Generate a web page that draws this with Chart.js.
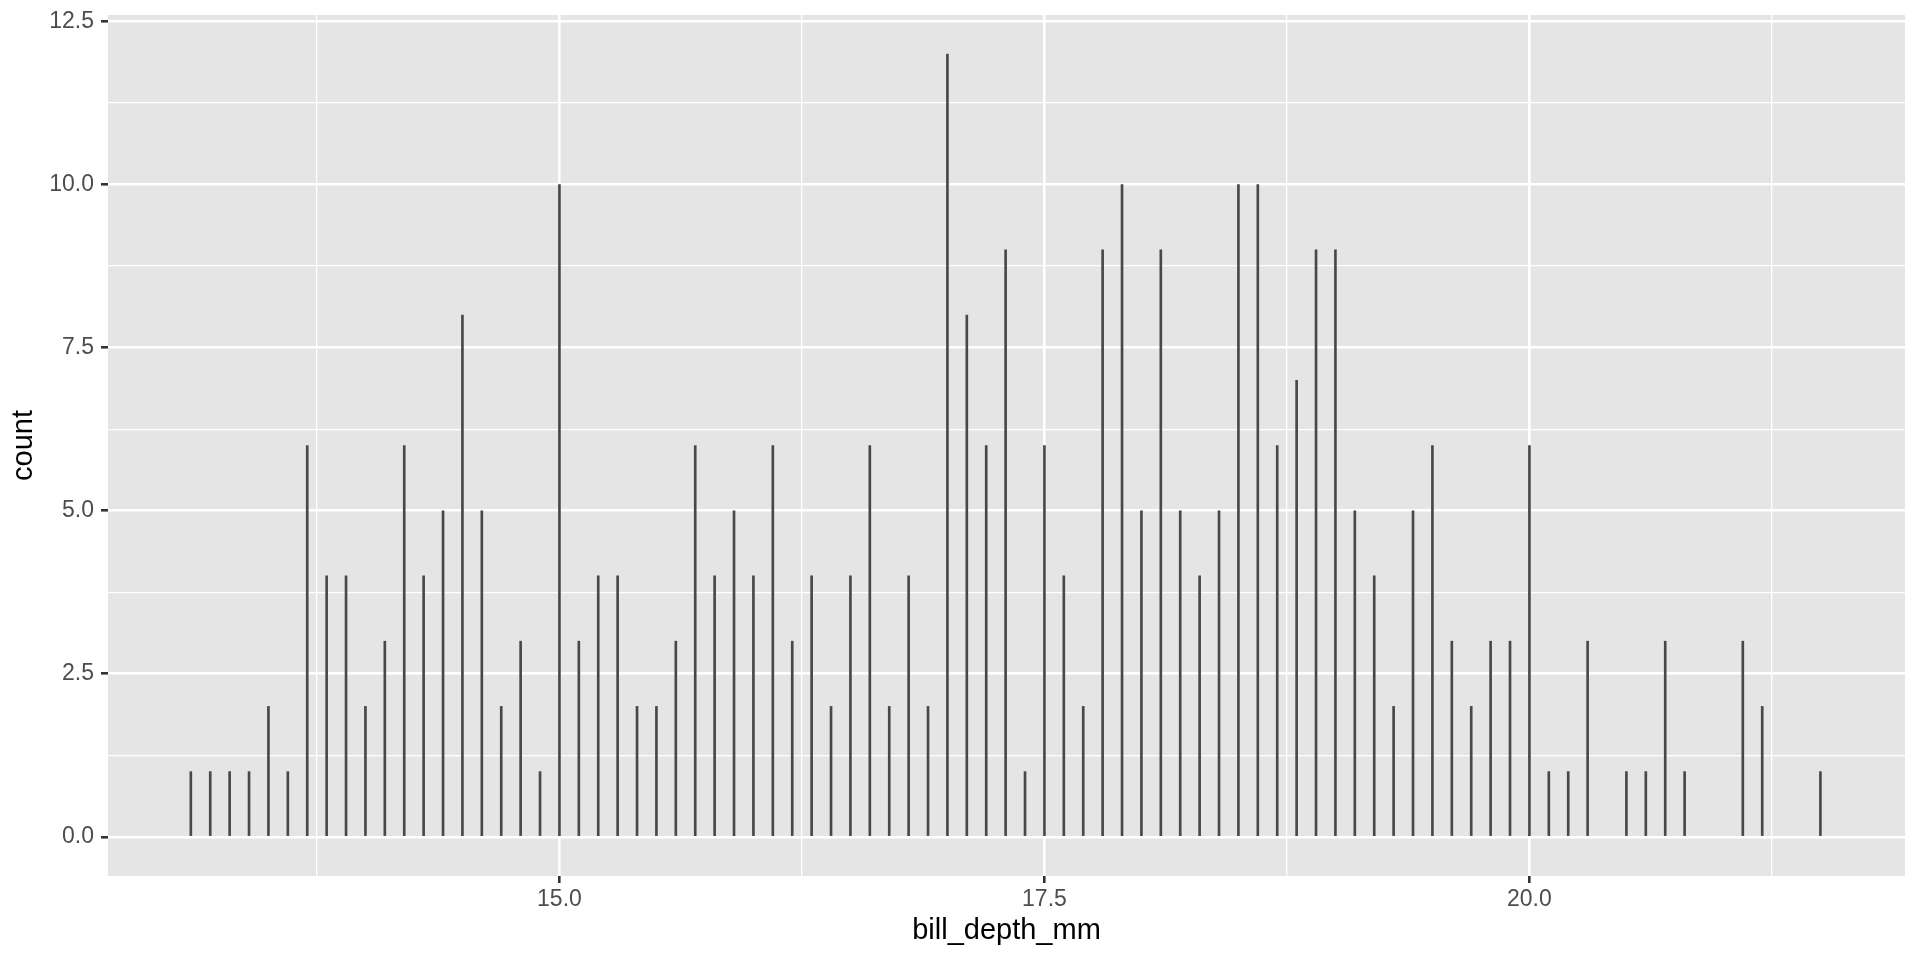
<!DOCTYPE html>
<html>
<head>
<meta charset="utf-8">
<script src="https://cdn.jsdelivr.net/npm/chart.js@4.4.1/dist/chart.umd.min.js"></script>
<style>
  html, body { margin: 0; padding: 0; background: #ffffff; }
  #wrap { width: 1920px; height: 960px; }
</style>
</head>
<body>
<div id="wrap"><canvas id="chart" width="1920" height="960"></canvas></div>
<script>
// bill depth bins (mm) and counts
const depths = [
  13.1, 13.2, 13.3, 13.4, 13.5, 13.6, 13.7, 13.8, 13.9,
  14.0, 14.1, 14.2, 14.3, 14.4, 14.5, 14.6, 14.7, 14.8, 14.9,
  15.0, 15.1, 15.2, 15.3, 15.4, 15.5, 15.6, 15.7, 15.8, 15.9,
  16.0, 16.1, 16.2, 16.3, 16.4, 16.5, 16.6, 16.7, 16.8, 16.9,
  17.0, 17.1, 17.2, 17.3, 17.4, 17.5, 17.6, 17.7, 17.8, 17.9,
  18.0, 18.1, 18.2, 18.3, 18.4, 18.5, 18.6, 18.7, 18.8, 18.9,
  19.0, 19.1, 19.2, 19.3, 19.4, 19.5, 19.6, 19.7, 19.8, 19.9,
  20.0, 20.1, 20.2, 20.3, 20.4, 20.5, 20.6, 20.7, 20.8, 20.9,
  21.0, 21.1, 21.2, 21.3, 21.4, 21.5
];
const counts = [
  1, 1, 1, 1, 2, 1, 6, 4, 4,
  2, 3, 6, 4, 5, 8, 5, 2, 3, 1,
  10, 3, 4, 4, 2, 2, 3, 6, 4, 5,
  4, 6, 3, 4, 2, 4, 6, 2, 4, 2,
  12, 8, 6, 9, 1, 6, 4, 2, 9, 10,
  5, 9, 5, 4, 5, 10, 10, 6, 7, 9,
  9, 5, 4, 2, 5, 6, 3, 2, 3, 3,
  6, 1, 1, 3, 0, 1, 1, 3, 1, 0,
  0, 3, 2, 0, 0, 1
];

const xMajor = [15, 17.5, 20];
const xMinor = [13.75, 16.25, 18.75, 21.25];
const yMajor = [0, 2.5, 5, 7.5, 10, 12.5];
const yMinor = [1.25, 3.75, 6.25, 8.75, 11.25];

const isMajor = (list, v) => list.some(m => Math.abs(m - v) < 1e-6);
const major = (list, c) => !!(c && c.tick && isMajor(list, c.tick.value));

// grey panel behind the grid
const panelBg = {
  id: 'panelBg',
  beforeDraw(chart) {
    const a = chart.chartArea, ctx = chart.ctx;
    ctx.save();
    ctx.fillStyle = '#e5e5e5';
    ctx.fillRect(a.left, a.top, a.right - a.left, a.bottom - a.top);
    ctx.restore();
  }
};

const tickFont = { family: '"Liberation Sans", Arial, sans-serif', size: 23 };
const titleFont = { family: '"Liberation Sans", Arial, sans-serif', size: 29 };

new Chart(document.getElementById('chart'), {
  type: 'bar',
  data: {
    datasets: [{
      // empty bins have no bar
      data: depths.map((d, i) => ({ x: d, y: counts[i] > 0 ? counts[i] : null })),
      backgroundColor: '#484848',
      borderWidth: 0,
      barThickness: 2
    }]
  },
  plugins: [panelBg],
  options: {
    responsive: false,
    animation: false,
    layout: { padding: { top: 15, right: 15, left: 0, bottom: 0 } },
    plugins: { legend: { display: false }, tooltip: { enabled: false } },
    scales: {
      x: {
        type: 'linear',
        offset: false,
        min: 12.673,
        max: 21.936,
        afterBuildTicks(s) {
          s.ticks = xMinor.concat(xMajor).sort((a, b) => a - b).map(v => ({ value: v }));
        },
        afterFit(s) { s.height = 84; s.paddingLeft = 0; s.paddingRight = 0; },
        border: { display: false },
        grid: {
          offset: false,
          color: '#ffffff',
          lineWidth: c => major(xMajor, c) ? 2.6 : 1.3,
          tickLength: 7,
          tickColor: c => major(xMajor, c) ? '#333333' : 'rgba(0,0,0,0)',
          tickWidth: 2.6
        },
        ticks: {
          autoSkip: false,
          maxRotation: 0,
          padding: 3,
          color: '#4d4d4d',
          font: tickFont,
          callback: v => isMajor(xMajor, v) ? v.toFixed(1) : ''
        },
        title: {
          display: true,
          text: 'bill_depth_mm',
          color: '#000000',
          font: titleFont,
          padding: { top: 0, bottom: 12 }
        }
      },
      y: {
        type: 'linear',
        min: -0.6,
        max: 12.6,
        afterBuildTicks(s) {
          s.ticks = yMinor.concat(yMajor).sort((a, b) => a - b).map(v => ({ value: v }));
        },
        afterFit(s) { s.width = 108; s.paddingTop = 0; s.paddingBottom = 0; },
        border: { display: false },
        grid: {
          color: '#ffffff',
          lineWidth: c => major(yMajor, c) ? 2.6 : 1.3,
          tickLength: 7,
          tickColor: c => major(yMajor, c) ? '#333333' : 'rgba(0,0,0,0)',
          tickWidth: 2.6
        },
        ticks: {
          autoSkip: false,
          padding: 7,
          color: '#4d4d4d',
          font: tickFont,
          callback: v => isMajor(yMajor, v) ? v.toFixed(1) : ''
        },
        title: {
          display: true,
          text: 'count',
          color: '#000000',
          font: titleFont,
          padding: { top: 7, bottom: 0 }
        }
      }
    }
  }
});
</script>
</body>
</html>
